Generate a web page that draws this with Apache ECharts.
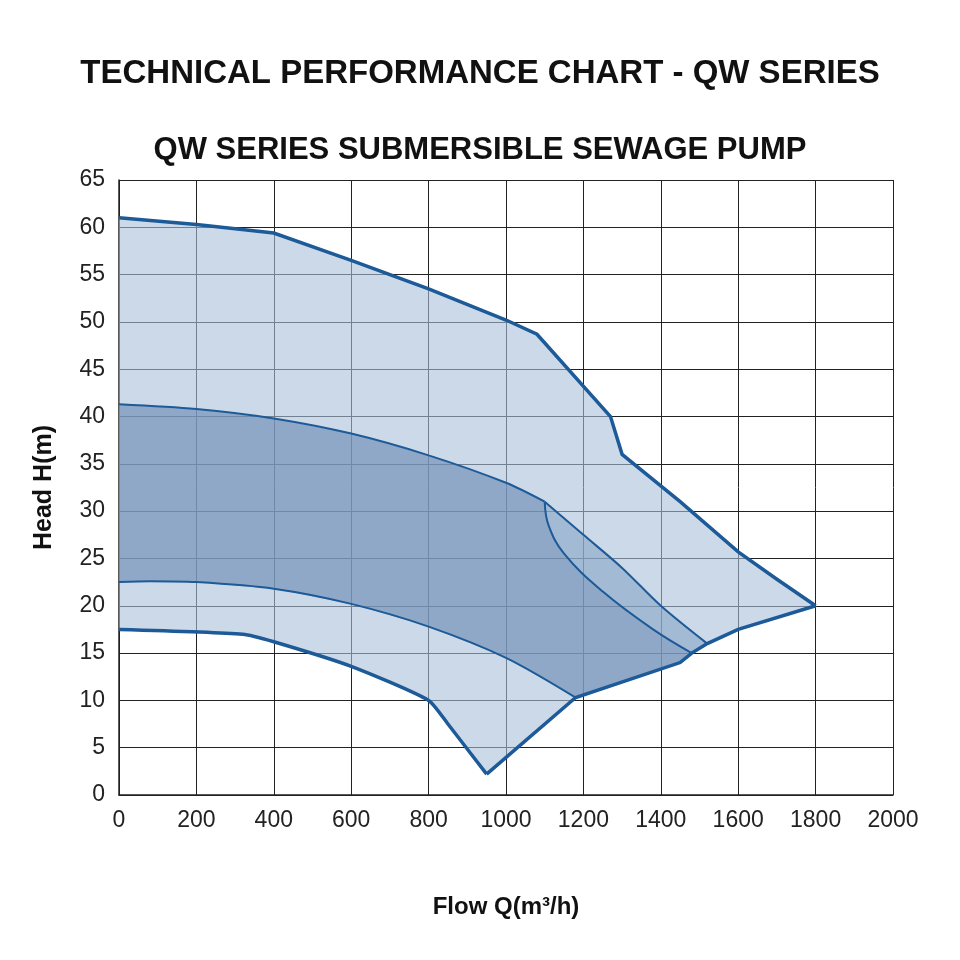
<!DOCTYPE html>
<html><head><meta charset="utf-8">
<script src="https://cdn.jsdelivr.net/npm/echarts@6/dist/echarts.min.js"></script>
<style>html,body{margin:0;background:#fff}#c{width:960px;height:960px}</style></head>
<body><div id="c"></div>
<script>
const xTicks=[0,200,400,600,800,1000,1200,1400,1600,1800,2000];
const outerTop=[[0,61],[200,60.3],[400,59.4],[600,56.5],[800,53.5],[1000,50.2],[1080,48.7],[1270,40],[1300,36],[1450,31],[1600,25.7],[1700,22.8],[1800,20]];
const bottomLine=[[1800,20],[1600,17.5],[1520,16],[1480,15],[1450,14],[1180,10.3],[950,2.2]];
const outerLow=[[950,2.2],[850,7.5],[800,10],[600,13.6],[400,16.2],[320,17],[0,17.5]];
const innerTop=[[0,41.3],[200,40.8],[400,39.8],[600,38.2],[800,35.9],[1000,33],[1100,31]];
const rightCurve=[[1100,31],[1200,27.5],[1300,24],[1400,20],[1520,16]];
const innerCurve=[[1100,31],[1110,28.5],[1150,25.5],[1250,21.5],[1380,17.5],[1480,15]];
const innerLow=[[1180,10.3],[1000,14.5],[800,17.8],[600,20.2],[400,21.8],[200,22.5],[80,22.6],[0,22.5]];

const outerPoly=[...outerTop,...bottomLine.slice(1),...outerLow.slice(1)];
const darkPoly=[...innerTop,...innerCurve.slice(1),[1450,14],...innerLow];
const midPoly=[...rightCurve,[1480,15],...innerCurve.slice().reverse()];

function poly(pts,fill,z){return{type:'custom',z:z,silent:true,data:[0],renderItem:(p,api)=>({type:'polygon',shape:{points:pts.map(q=>api.coord(q))},style:{fill:fill}})};}
function line(pts,w,z,smooth){return{type:'custom',z:z,silent:true,data:[0],renderItem:(p,api)=>({type:'polyline',shape:{points:pts.map(q=>api.coord(q)),smooth:smooth||0},style:{stroke:'#1d5a98',lineWidth:w,fill:null}})};}

const ch=echarts.init(document.getElementById('c'));
ch.setOption({
 animation:false,
 title:[{text:'TECHNICAL PERFORMANCE CHART - QW SERIES',left:'center',top:52,textStyle:{fontFamily:'Liberation Sans',fontWeight:'bold',fontSize:33,color:'#111'}},
  {text:'QW SERIES SUBMERSIBLE SEWAGE PUMP',left:'center',top:130,textStyle:{fontFamily:'Liberation Sans',fontWeight:'bold',fontSize:31,color:'#111'}}],
 grid:{left:119,right:67,top:180,bottom:165},
 xAxis:{type:'value',min:0,max:2000,interval:200,name:'Flow Q(m³/h)',nameLocation:'middle',nameGap:100,
  nameTextStyle:{fontFamily:'Liberation Sans',fontWeight:'bold',fontSize:24,color:'#111'},
  axisLine:{lineStyle:{color:'#222',width:1.5}},axisTick:{show:false},
  axisLabel:{fontFamily:'Liberation Sans',fontSize:23,color:'#222',margin:14,formatter:v=>String(v)},
  splitLine:{lineStyle:{color:'#222',width:1}}},
 yAxis:{type:'value',min:0,max:65,interval:5,name:'Head H(m)',nameLocation:'middle',nameGap:62,
  nameTextStyle:{fontFamily:'Liberation Sans',fontWeight:'bold',fontSize:25,color:'#111'},
  axisLine:{show:true,lineStyle:{color:'#222',width:1.5}},axisTick:{show:false},
  axisLabel:{fontFamily:'Liberation Sans',fontSize:23,color:'#222',margin:14},
  splitLine:{lineStyle:{color:'#222',width:1}}},
 series:[
  poly(outerPoly,'rgba(170,192,218,0.6)',1),
  poly(darkPoly,'rgba(110,142,182,0.65)',2),
  poly(midPoly,'rgba(130,160,195,0.55)',2),
  line(outerTop,3.5,5),line(bottomLine,3.5,5),line(outerLow,3.5,5,0.2),
  line(innerTop,2,5,0.3),line(rightCurve,2,5,0.3),line(innerCurve,2,5,0.4),line(innerLow,2,5,0.3)
 ]
});
</script></body></html>
